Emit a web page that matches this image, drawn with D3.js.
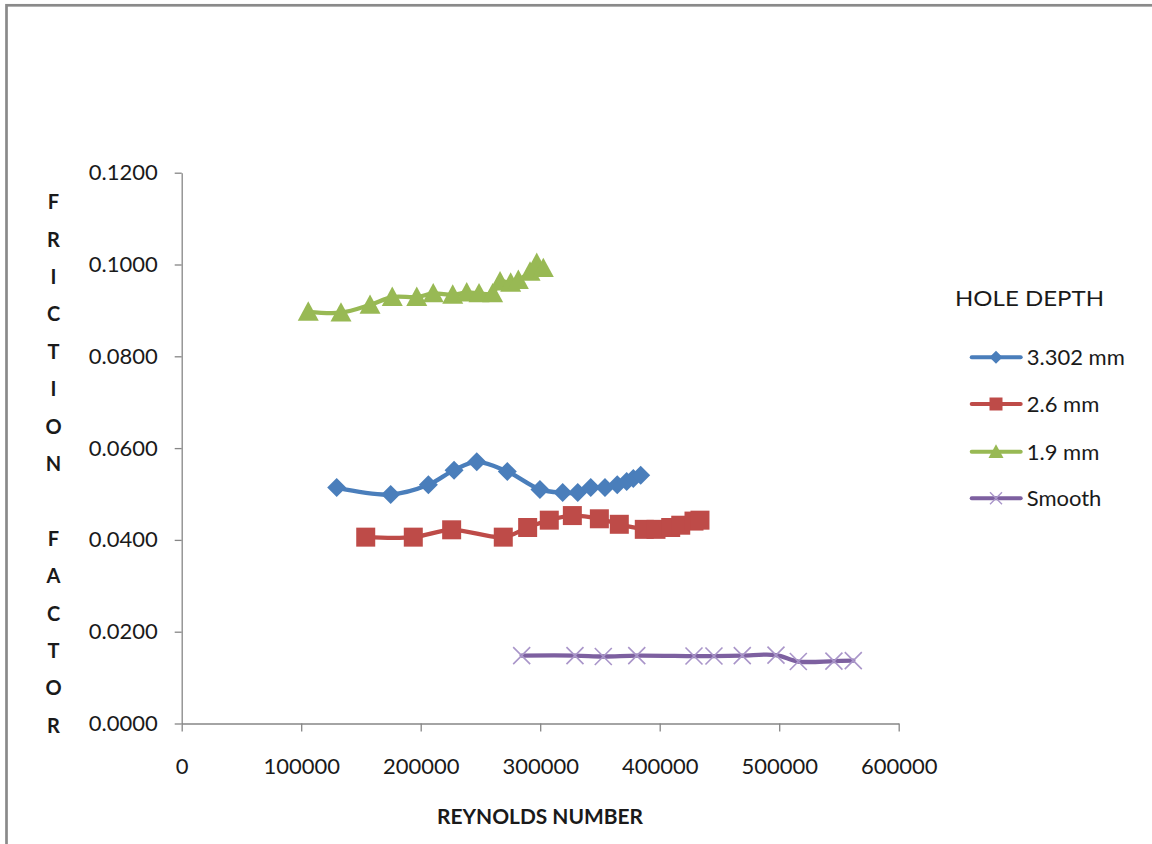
<!DOCTYPE html>
<html>
<head>
<meta charset="utf-8">
<script src="https://cdn.jsdelivr.net/npm/d3@7"></script>
<style>
  html, body { margin: 0; padding: 0; background: #ffffff; }
  svg { display: block; }
  text { font-family: Lato, "Liberation Sans", sans-serif; fill: #1a1a1a; }
</style>
</head>
<body>
<svg id="chart" width="1152" height="844"></svg>
<script>
// Reynolds number vs friction factor, per hole depth
const re_3302 = [129700, 174900, 206400, 227900, 246900, 272500, 299800, 318800, 331400, 342300, 354200, 364500, 372400, 377900, 384100];
const f_3302  = [0.0514, 0.0499, 0.0520, 0.0552, 0.0570, 0.0549, 0.0510, 0.0503, 0.0503, 0.0514, 0.0514, 0.0520, 0.0527, 0.0534, 0.0541];

const re_26 = [154000, 193800, 225900, 269100, 289500, 307600, 326900, 349500, 366200, 387100, 396900, 409200, 417600, 428700, 433700];
const f_26  = [0.0406, 0.0406, 0.0422, 0.0406, 0.0427, 0.0443, 0.0453, 0.0446, 0.0434, 0.0423, 0.0423, 0.0427, 0.0432, 0.0441, 0.0443];

const re_19 = [105900, 133300, 157600, 176200, 196700, 210500, 226800, 238500, 248800, 260200, 266400, 275300, 281700, 291500, 297100, 302600];
const f_19  = [0.0897, 0.0895, 0.0912, 0.0929, 0.0929, 0.0937, 0.0934, 0.0939, 0.0937, 0.0937, 0.0963, 0.0960, 0.0966, 0.0984, 0.1003, 0.0992];

const re_smooth = [284500, 329100, 352800, 380800, 428700, 445400, 469100, 497300, 516000, 545800, 562000];
const f_smooth  = [0.0148, 0.0148, 0.0146, 0.0148, 0.0147, 0.0147, 0.0148, 0.0149, 0.0135, 0.0136, 0.0137];

const seriesNames = ["3.302 mm", "2.6 mm", "1.9 mm", "Smooth"];
const xTicks = [0, 100000, 200000, 300000, 400000, 500000, 600000];
const yTicks = [0, 0.02, 0.04, 0.06, 0.08, 0.10, 0.12];

const series = [
  { name: seriesNames[0], x: re_3302,   y: f_3302,   color: "#4a7ebb", marker: "diamond" },
  { name: seriesNames[1], x: re_26,     y: f_26,     color: "#be4b48", marker: "square" },
  { name: seriesNames[2], x: re_19,     y: f_19,     color: "#98b954", marker: "triangle" },
  { name: seriesNames[3], x: re_smooth, y: f_smooth, color: "#7d60a0", marker: "cross" }
];

const svg = d3.select("#chart");

// outer chart frame (only top and left edges fall inside the view)
svg.append("rect")
  .attr("x", 6.5).attr("y", 5.3)
  .attr("width", 1200).attr("height", 900)
  .attr("fill", "none").attr("stroke", "#8a8a8a").attr("stroke-width", 2.7);

const x = d3.scaleLinear().domain([0, 600000]).range([181.7, 898.7]);
const y = d3.scaleLinear().domain([0, 0.12]).range([723.5, 172.7]);

const axisColor = "#868686";

// y axis
const gy = svg.append("g")
  .attr("transform", `translate(${x(0)},0)`)
  .call(d3.axisLeft(y).tickValues(yTicks).tickFormat(d3.format(".4f"))
        .tickSize(7).tickSizeOuter(0).tickPadding(17));
gy.select(".domain").attr("stroke", axisColor).attr("stroke-width", 1.3);
gy.selectAll(".tick line").attr("stroke", axisColor).attr("stroke-width", 1.3);
gy.selectAll(".tick text")
  .attr("font-family", "Lato, 'Liberation Sans', sans-serif")
  .attr("font-size", 22).attr("fill", "#1a1a1a");

// x axis
const gx = svg.append("g")
  .attr("transform", `translate(0,${y(0)})`)
  .call(d3.axisBottom(x).tickValues(xTicks).tickFormat(d3.format("d"))
        .tickSize(8).tickSizeOuter(0).tickPadding(27));
gx.select(".domain").attr("stroke", axisColor).attr("stroke-width", 1.3);
gx.selectAll(".tick line").attr("stroke", axisColor).attr("stroke-width", 1.3);
gx.selectAll(".tick text")
  .attr("font-family", "Lato, 'Liberation Sans', sans-serif")
  .attr("font-size", 22).attr("fill", "#1a1a1a");

// marker shapes
function markerPath(kind, s) {
  const h = s / 2;
  if (kind === "diamond") return `M0,${-h}L${h},0L0,${h}L${-h},0Z`;
  if (kind === "square") return `M${-h},${-h}H${h}V${h}H${-h}Z`;
  if (kind === "triangle") return `M0,${-h}L${h},${h * 0.85}L${-h},${h * 0.85}Z`;
  return `M${-h},${-h}L${h},${h}M${-h},${h}L${h},${-h}`;
}
const markerSize = { diamond: 19, square: 19, triangle: 21, cross: 17 };

const line = d3.line()
  .x(d => x(d[0])).y(d => y(d[1]))
  .curve(d3.curveCatmullRom.alpha(0.5));

// series lines and markers
series.forEach(s => {
  const pts = s.x.map((v, i) => [v, s.y[i]]);
  const g = svg.append("g");
  g.append("path")
    .attr("d", line(pts))
    .attr("fill", "none").attr("stroke", s.color)
    .attr("stroke-width", 4.3).attr("stroke-linejoin", "round").attr("stroke-linecap", "round");
  g.selectAll("path.m").data(pts).enter().append("path")
    .attr("class", "m")
    .attr("transform", d => `translate(${x(d[0])},${y(d[1])})`)
    .attr("d", markerPath(s.marker, markerSize[s.marker]))
    .attr("fill", s.marker === "cross" ? "none" : s.color)
    .attr("stroke", s.marker === "cross" ? "#a995c9" : "none")
    .attr("stroke-width", 1.6);
});

// y axis title, stacked letters
const yTitle = ["F","R","I","C","T","I","O","N","","F","A","C","T","O","R"];
svg.append("g").selectAll("text").data(yTitle).enter().append("text")
  .attr("x", 53.5)
  .attr("y", (d, i) => 202 + i * 37.4 + 7.2)
  .attr("text-anchor", "middle")
  .attr("font-size", 20).attr("font-weight", "bold")
  .text(d => d);

// x axis title
svg.append("text")
  .attr("x", 437).attr("y", 824)
  .attr("font-size", 20).attr("font-weight", "bold")
  .attr("textLength", 206).attr("lengthAdjust", "spacingAndGlyphs")
  .text("REYNOLDS NUMBER");

// legend
const legend = svg.append("g");
legend.append("text")
  .attr("x", 955).attr("y", 306)
  .attr("font-size", 22)
  .attr("textLength", 149).attr("lengthAdjust", "spacingAndGlyphs")
  .text("HOLE DEPTH");
const legendY = [357.3, 404, 451.7, 498.3];
series.forEach((s, i) => {
  const ly = legendY[i];
  legend.append("line")
    .attr("x1", 971.7).attr("x2", 1020.7).attr("y1", ly).attr("y2", ly)
    .attr("stroke", s.color).attr("stroke-width", 4).attr("stroke-linecap", "round");
  legend.append("path")
    .attr("transform", `translate(996,${ly})`)
    .attr("d", markerPath(s.marker, s.marker === "cross" ? 12 : (s.marker === "triangle" ? 15 : 13)))
    .attr("fill", s.marker === "cross" ? "none" : s.color)
    .attr("stroke", s.marker === "cross" ? "#a995c9" : "none")
    .attr("stroke-width", 1.4);
  legend.append("text")
    .attr("x", 1026.7).attr("y", ly + 7.8)
    .attr("font-size", 22)
    .text(s.name);
});
</script>
</body>
</html>
